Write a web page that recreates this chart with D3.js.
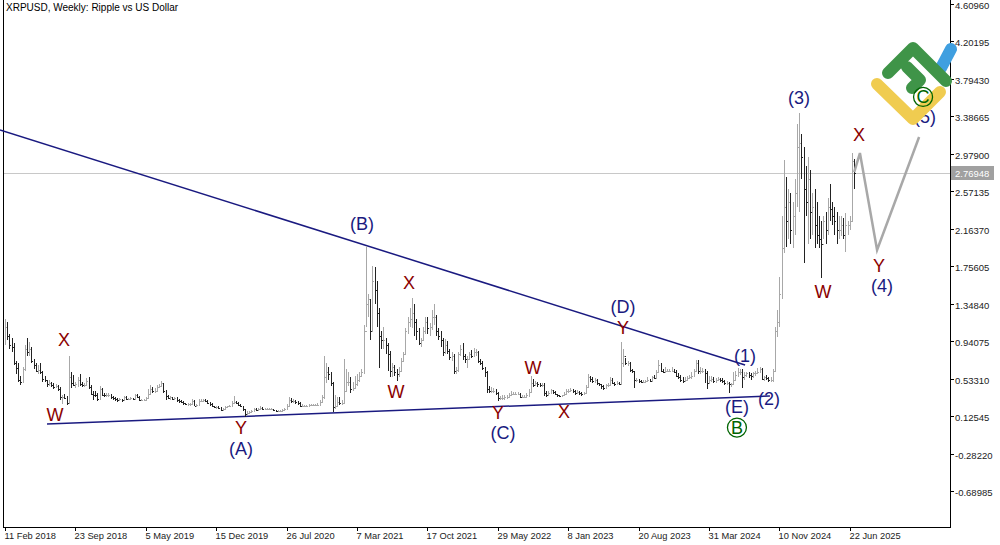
<!DOCTYPE html>
<html><head><meta charset="utf-8">
<script src="https://cdn.jsdelivr.net/npm/d3@7"></script>
<style>body{margin:0;background:#fff}svg{display:block}text{font-family:"Liberation Sans",Arial,sans-serif}</style>
</head><body><svg id="c" width="1000" height="545"></svg>
<script>
// ---- data ----
const highs = [
1.18,1.15,1.02,0.98,0.92,0.72,0.70,0.56,0.66,0.90,0.97,0.93,0.88,0.75,0.70,0.68,0.70,0.62,0.56,0.52,0.52,0.50,0.49,0.47,0.46,0.44,0.36,0.37,0.34,0.78,0.60,0.57,0.50,0.55,0.58,0.50,0.48,0.54,0.55,0.46,0.40,0.40,0.38,0.45,0.43,0.38,0.38,
0.38,0.37,0.34,0.33,0.32,0.32,0.31,0.34,0.34,0.32,0.33,0.32,0.37,0.37,0.34,0.31,0.31,0.33,0.42,0.46,0.44,0.43,0.46,0.47,0.51,0.49,0.41,0.35,0.34,0.33,0.33,0.33,0.31,0.30,0.29,0.27,0.27,0.27,0.31,0.30,0.26,0.31,0.31,0.31,0.31,0.30,0.28,0.27,0.24,0.23,0.23,0.22,
0.21,0.23,0.24,0.25,0.29,0.34,0.29,0.28,0.26,0.24,0.19,0.18,0.18,0.19,0.21,0.21,0.21,0.24,0.22,0.21,0.21,0.21,0.21,0.20,0.19,0.19,0.19,0.20,0.21,0.26,0.33,0.32,0.31,0.30,0.29,0.28,0.26,0.25,0.25,0.26,0.26,0.26,0.26,0.27,0.30,0.36,0.78,0.70,0.66,0.61,0.50,
0.36,0.33,0.33,0.30,0.75,0.64,0.60,0.55,0.50,0.56,0.58,0.60,0.64,1.12,1.98,1.45,1.40,1.76,1.75,1.60,1.30,1.05,1.10,0.98,0.92,0.83,0.70,0.68,0.64,0.66,0.76,0.82,1.08,1.20,1.30,1.41,1.35,1.18,1.08,0.98,1.10,1.20,1.20,1.14,1.28,1.35,1.22,1.08,1.05,0.98,0.96,0.94,
0.86,0.82,0.80,0.66,0.82,0.90,0.92,0.80,0.78,0.82,0.84,0.87,0.86,0.83,0.75,0.72,0.66,0.62,0.45,0.44,0.43,0.42,0.39,0.34,0.35,0.36,0.35,0.38,0.40,0.39,0.39,0.39,0.38,0.35,0.35,0.38,0.42,0.56,0.53,0.51,0.50,0.48,0.48,0.48,0.40,0.40,0.42,0.41,0.40,0.37,0.36,
0.36,0.39,0.42,0.42,0.43,0.42,0.41,0.41,0.40,0.39,0.39,0.46,0.58,0.56,0.55,0.54,0.53,0.49,0.47,0.46,0.47,0.48,0.55,0.54,0.50,0.51,0.50,0.93,0.86,0.76,0.73,0.71,0.64,0.62,0.54,0.53,0.52,0.52,0.52,0.55,0.53,0.56,0.57,0.63,0.74,0.70,0.64,0.66,0.64,0.64,0.66,0.64,
0.63,0.59,0.57,0.55,0.55,0.56,0.57,0.60,0.64,0.74,0.74,0.66,0.65,0.64,0.62,0.56,0.56,0.55,0.54,0.55,0.54,0.54,0.52,0.51,0.50,0.49,0.60,0.62,0.65,0.64,0.64,0.60,0.61,0.60,0.59,0.60,0.62,0.65,0.66,0.65,0.56,0.57,0.55,0.55,
0.64,1.10,1.28,1.64,2.30,2.91,2.73,2.60,2.55,2.45,2.70,3.30,3.42,3.20,3.05,2.85,2.95,2.80,2.55,2.60,2.45,2.30,2.25,2.30,2.35,2.50,2.65,2.45,2.40,2.35,2.30,2.30,2.28,2.33,2.25,2.30,2.99,2.92];
const lows = [
0.90,0.95,0.85,0.82,0.68,0.58,0.50,0.46,0.48,0.62,0.78,0.78,0.70,0.64,0.60,0.58,0.58,0.50,0.50,0.44,0.45,0.44,0.42,0.44,0.40,0.30,0.26,0.31,0.25,0.26,0.43,0.45,0.43,0.44,0.45,0.44,0.44,0.45,0.42,0.35,0.30,0.33,0.29,0.30,0.34,0.33,0.33,
0.33,0.31,0.30,0.29,0.28,0.29,0.28,0.29,0.30,0.30,0.30,0.30,0.30,0.32,0.29,0.29,0.29,0.29,0.32,0.36,0.38,0.38,0.39,0.43,0.44,0.38,0.30,0.31,0.30,0.30,0.30,0.28,0.27,0.27,0.25,0.25,0.24,0.24,0.25,0.23,0.22,0.24,0.28,0.28,0.28,0.26,0.24,0.22,0.21,0.20,0.20,0.18,
0.19,0.20,0.22,0.23,0.24,0.27,0.26,0.24,0.22,0.18,0.11,0.14,0.15,0.16,0.18,0.18,0.19,0.19,0.19,0.19,0.19,0.19,0.19,0.18,0.17,0.17,0.17,0.18,0.19,0.19,0.24,0.27,0.27,0.26,0.25,0.22,0.23,0.23,0.23,0.23,0.24,0.24,0.24,0.24,0.24,0.27,0.31,0.48,0.52,0.45,0.17,
0.20,0.24,0.25,0.25,0.26,0.40,0.45,0.38,0.40,0.42,0.45,0.50,0.55,0.58,1.10,1.20,0.95,1.05,1.35,1.10,0.65,0.85,0.85,0.80,0.62,0.55,0.55,0.56,0.51,0.55,0.60,0.72,0.80,1.02,1.10,1.08,1.00,0.95,0.90,0.88,0.94,1.02,1.02,1.00,1.06,1.12,1.00,0.95,0.88,0.78,0.80,0.80,
0.74,0.72,0.58,0.58,0.60,0.78,0.74,0.70,0.65,0.74,0.76,0.77,0.78,0.70,0.68,0.63,0.55,0.38,0.38,0.38,0.38,0.36,0.29,0.30,0.30,0.30,0.31,0.32,0.35,0.35,0.35,0.36,0.32,0.32,0.32,0.32,0.33,0.38,0.44,0.45,0.44,0.44,0.44,0.34,0.33,0.34,0.37,0.37,0.35,0.33,0.33,
0.33,0.34,0.36,0.38,0.39,0.38,0.36,0.37,0.36,0.34,0.36,0.37,0.44,0.50,0.48,0.49,0.46,0.45,0.42,0.41,0.42,0.44,0.46,0.47,0.45,0.46,0.46,0.46,0.66,0.68,0.67,0.60,0.59,0.43,0.50,0.48,0.48,0.48,0.49,0.50,0.50,0.50,0.53,0.54,0.59,0.60,0.59,0.59,0.60,0.60,0.60,0.59,
0.55,0.53,0.50,0.49,0.50,0.51,0.53,0.53,0.55,0.60,0.58,0.58,0.59,0.48,0.42,0.48,0.50,0.48,0.49,0.51,0.50,0.48,0.46,0.46,0.38,0.44,0.46,0.51,0.55,0.57,0.43,0.52,0.55,0.54,0.52,0.54,0.56,0.58,0.60,0.52,0.51,0.52,0.50,0.50,
0.50,0.62,0.99,1.10,1.40,1.90,1.97,2.05,2.00,1.95,2.10,2.40,2.35,2.70,1.79,2.30,2.00,2.05,2.10,1.95,2.00,1.95,1.63,2.05,2.00,2.10,2.25,2.20,2.10,2.00,2.05,2.08,2.05,1.91,2.10,2.15,2.25,2.60];
const closes = [
1.10,1.00,0.90,0.88,0.70,0.65,0.52,0.50,0.64,0.86,0.82,0.85,0.72,0.68,0.62,0.63,0.60,0.53,0.52,0.47,0.48,0.46,0.44,0.45,0.42,0.33,0.33,0.32,0.27,0.55,0.48,0.46,0.47,0.52,0.47,0.46,0.46,0.51,0.44,0.37,0.36,0.35,0.31,0.42,0.36,0.35,0.36,
0.36,0.33,0.32,0.31,0.30,0.31,0.30,0.33,0.31,0.31,0.32,0.31,0.35,0.33,0.30,0.30,0.30,0.32,0.37,0.42,0.40,0.40,0.44,0.45,0.48,0.40,0.34,0.32,0.33,0.31,0.32,0.30,0.29,0.28,0.27,0.26,0.26,0.26,0.29,0.24,0.25,0.29,0.29,0.30,0.29,0.27,0.26,0.23,0.22,0.22,0.21,0.19,
0.20,0.22,0.23,0.24,0.27,0.28,0.27,0.25,0.24,0.20,0.15,0.16,0.17,0.18,0.20,0.19,0.20,0.21,0.20,0.20,0.20,0.20,0.20,0.19,0.18,0.18,0.18,0.19,0.20,0.24,0.30,0.29,0.29,0.28,0.27,0.24,0.24,0.24,0.24,0.25,0.25,0.25,0.25,0.25,0.28,0.33,0.55,0.60,0.58,0.48,0.22,
0.24,0.28,0.27,0.27,0.40,0.50,0.50,0.42,0.43,0.47,0.52,0.56,0.60,1.05,1.35,1.40,1.05,1.60,1.50,1.25,1.00,0.95,0.95,0.90,0.80,0.62,0.66,0.60,0.58,0.62,0.73,0.80,1.05,1.15,1.18,1.25,1.15,1.05,0.92,0.95,1.05,1.15,1.08,1.10,1.20,1.20,1.05,1.00,0.95,0.82,0.90,0.83,
0.77,0.78,0.62,0.63,0.80,0.85,0.78,0.75,0.75,0.80,0.78,0.82,0.82,0.72,0.70,0.65,0.60,0.42,0.40,0.40,0.40,0.38,0.32,0.32,0.32,0.33,0.33,0.36,0.37,0.37,0.37,0.37,0.33,0.33,0.33,0.35,0.39,0.49,0.46,0.49,0.47,0.46,0.46,0.38,0.36,0.38,0.41,0.39,0.37,0.35,0.34,
0.35,0.37,0.40,0.40,0.41,0.40,0.38,0.39,0.38,0.37,0.38,0.44,0.55,0.53,0.51,0.52,0.48,0.47,0.45,0.43,0.46,0.46,0.52,0.48,0.47,0.49,0.47,0.70,0.78,0.70,0.70,0.63,0.62,0.52,0.52,0.51,0.50,0.50,0.51,0.52,0.51,0.55,0.54,0.60,0.68,0.62,0.61,0.62,0.62,0.62,0.62,0.61,
0.56,0.55,0.52,0.51,0.52,0.54,0.55,0.56,0.62,0.70,0.62,0.62,0.62,0.59,0.49,0.52,0.53,0.51,0.52,0.53,0.52,0.51,0.48,0.48,0.47,0.47,0.52,0.57,0.60,0.60,0.55,0.57,0.59,0.57,0.56,0.59,0.59,0.61,0.64,0.53,0.55,0.54,0.52,0.52,
0.62,1.05,1.15,1.45,1.95,2.40,2.25,2.45,2.15,2.30,2.55,3.05,3.10,2.95,2.60,2.45,2.70,2.35,2.40,2.20,2.10,2.05,2.00,2.25,2.15,2.40,2.38,2.30,2.25,2.15,2.15,2.20,2.10,2.20,2.20,2.25,2.90,2.76948];
const dateLabels = ["11 Feb 2018","23 Sep 2018","5 May 2019","15 Dec 2019","26 Jul 2020","7 Mar 2021","17 Oct 2021","29 May 2022","8 Jan 2023","20 Aug 2023","31 Mar 2024","10 Nov 2024","22 Jun 2025"];
const priceTicks = [4.60960,4.20195,3.79430,3.38665,2.97900,2.57135,2.16370,1.75605,1.34840,0.94075,0.53310,0.12545,-0.28220,-0.68985];
const lastPrice = 2.76948;
const upperTrend = [[-2.3,3.239],[336.4,0.681]];
const lowerTrend = [[19.1,0.039],[347.7,0.344]];
const projection = [[386,2.78],[388.6,2.988],[396.4,1.933],[415.5,3.162]];
const waveLabels = [
["W",22.7,0.137,"r"],["X",26.8,0.954,"r"],["Y",107.3,0.0,"r"],["(A)",107.3,-0.233,"b"],
["(B)",162.3,2.216,"b"],["X",183.6,1.574,"r"],["W",177.7,0.388,"r"],["Y",224.1,0.159,"r"],
["(C)",226.4,-0.058,"b"],["W",240,0.649,"r"],["X",254.1,0.170,"r"],["Y",280.9,1.084,"r"],
["(D)",280.9,1.312,"b"],["(E)",332.7,0.224,"b"],["(1)",336.4,0.779,"b"],["(2)",347.3,0.311,"b"],
["(3)",360.9,3.587,"b"],["X",388.2,3.184,"r"],["W",371.8,1.476,"r"],["Y",397.3,1.759,"r"],
["(4)",398.6,1.541,"b"],["(5)",418.2,3.380,"b"]];
const circled = [["B",332.7,0.0],["C",417.3,3.598]];

// ---- drawing ----
const svg = d3.select("#c");
const X0=5, STEP=2.2, RIGHT=950, BOTTOM=527;
const x = d3.scaleLinear().domain([0,1]).range([X0,X0+STEP]);
const y = d3.scaleLinear().domain([-0.68985,4.6096]).range([491,4]);
const colors = {r:"#8b0000", b:"#1a1a80"};

svg.append("path").attr("d",`M3.5,0V${BOTTOM+0.5}H${RIGHT+0.5}V0`).attr("fill","none").attr("stroke","#000").attr("shape-rendering","crispEdges");

const ya = svg.append("g");
priceTicks.forEach(v=>{
  const yy=Math.round(y(v))+0.5;
  ya.append("line").attr("x1",RIGHT).attr("x2",RIGHT+4).attr("y1",yy).attr("y2",yy).attr("stroke","#000");
  ya.append("text").attr("x",RIGHT+5).attr("y",yy+4).attr("font-size",9.5).attr("fill","#222").text(v.toFixed(5));
});
dateLabels.forEach((d,i)=>{
  const xx=Math.round(x(i*32))+0.5;
  svg.append("line").attr("x1",xx).attr("x2",xx).attr("y1",BOTTOM).attr("y2",BOTTOM+4).attr("stroke","#000");
  svg.append("text").attr("x",xx-1).attr("y",539).attr("font-size",9.3).attr("fill","#222").text(d);
});

svg.append("line").attr("x1",4).attr("x2",RIGHT).attr("y1",Math.round(y(lastPrice))+0.5).attr("y2",Math.round(y(lastPrice))+0.5).attr("stroke","#c8c8c8");

const tl = d3.line().x(d=>x(d[0])).y(d=>y(d[1]));
[upperTrend,lowerTrend].forEach(t=>svg.append("path").attr("d",tl(t)).attr("stroke","#1a1a80").attr("stroke-width",1.5).attr("fill","none"));

const g = svg.append("g").attr("shape-rendering","crispEdges");
closes.forEach((c,i)=>{
  const o = i? closes[i-1] : 1.0;
  const col = c>=o ? "#a8a8a8" : "#222";
  const xx = Math.round(x(i))+0.5;
  g.append("line").attr("x1",xx).attr("x2",xx).attr("y1",y(highs[i])).attr("y2",y(lows[i])).attr("stroke",col);
  g.append("line").attr("x1",xx-1).attr("x2",xx).attr("y1",Math.round(y(o))+0.5).attr("y2",Math.round(y(o))+0.5).attr("stroke",col);
  g.append("line").attr("x1",xx).attr("x2",xx+1.5).attr("y1",Math.round(y(c))+0.5).attr("y2",Math.round(y(c))+0.5).attr("stroke",col);
});

svg.append("path").attr("d",tl(projection)).attr("stroke","#a8a8a8").attr("stroke-width",2.5).attr("fill","none");

waveLabels.forEach(([t,i,p,c])=>{
  svg.append("text").attr("x",x(i)).attr("y",y(p)).attr("dy","0.35em").attr("text-anchor","middle")
    .attr("font-size",18).attr("fill",colors[c]).text(t);
});

const logo = svg.append("g").attr("fill","none").attr("stroke-linecap","round").attr("stroke-linejoin","round").attr("stroke-width",12);
logo.append("path").attr("d","M941,68L951,49").attr("stroke","#3f9fe0");
logo.append("path").attr("d","M888,73L913,48L946,81M907,67L920,80L912,88").attr("stroke","#3f9448");
logo.append("path").attr("d","M877,84L913,119L940,92").attr("stroke","#f0cc50");

circled.forEach(([t,i,p])=>{
  const cx=x(i), cy=y(p);
  svg.append("circle").attr("cx",cx).attr("cy",cy).attr("r",9.5).attr("fill","none").attr("stroke","#006400").attr("stroke-width",1.3);
  svg.append("text").attr("x",cx).attr("y",cy).attr("dy","0.36em").attr("text-anchor","middle").attr("font-size",18).attr("fill","#006400").text(t);
});

const ly=Math.round(y(lastPrice));
svg.append("rect").attr("x",RIGHT+1).attr("y",ly-7).attr("width",43).attr("height",14).attr("fill","#a0a0a0");
svg.append("text").attr("x",RIGHT+5).attr("y",ly+4).attr("font-size",9.5).attr("fill","#fff").text(lastPrice.toFixed(5));

svg.append("text").attr("x",6).attr("y",11).attr("font-size",10).attr("fill","#000").text("XRPUSD, Weekly:  Ripple vs US Dollar");
</script></body></html>
